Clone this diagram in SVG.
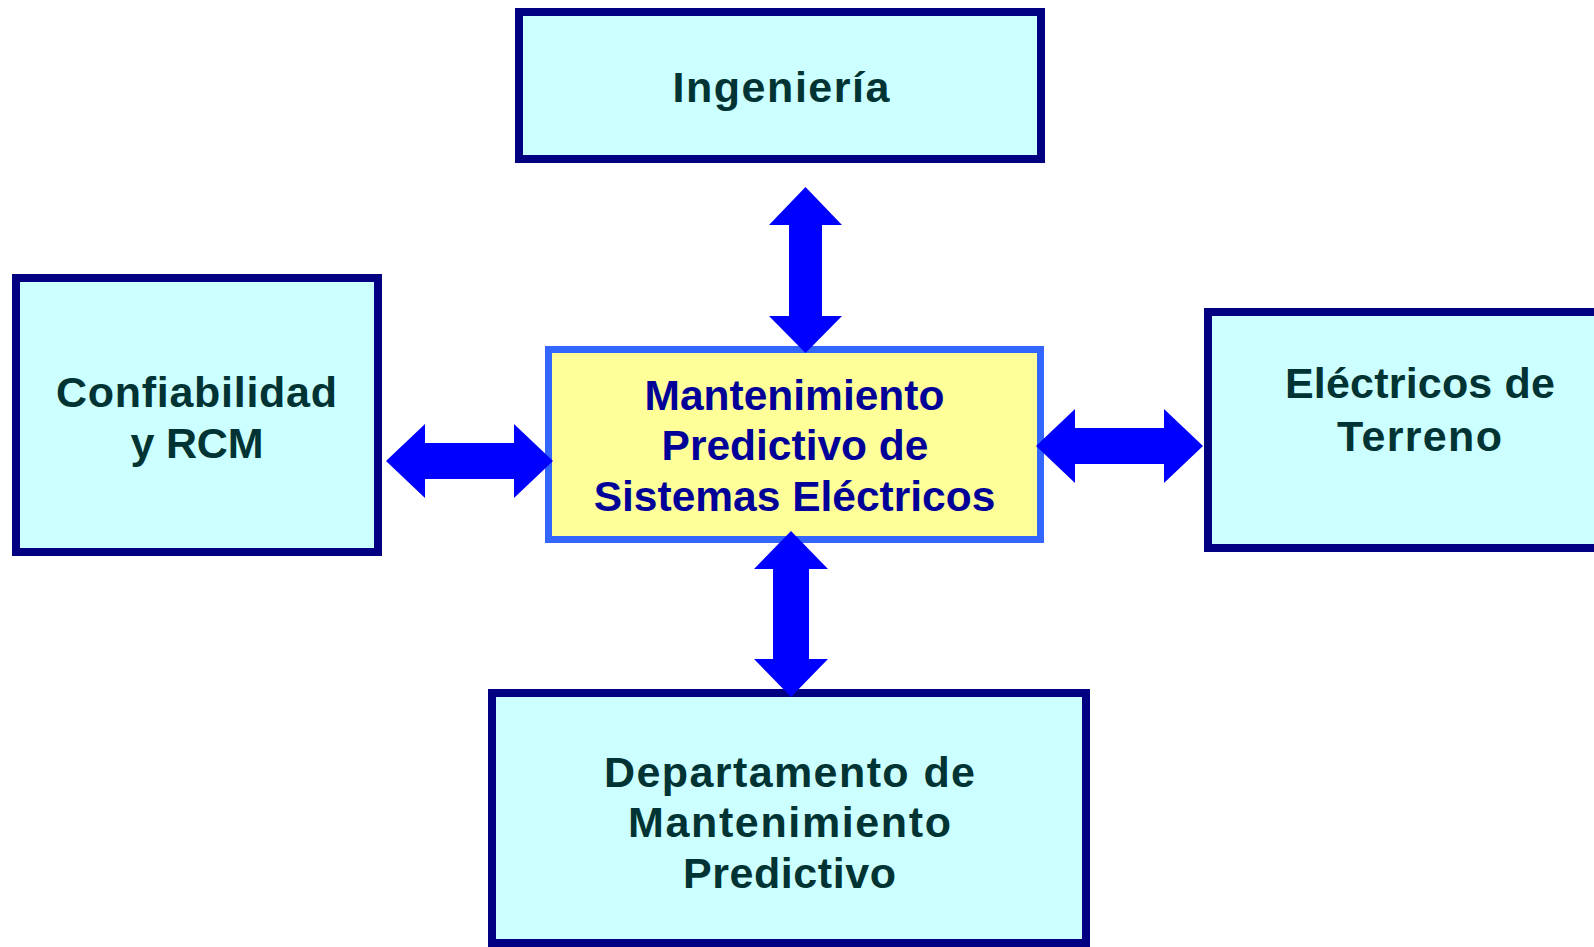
<svg xmlns="http://www.w3.org/2000/svg" width="1594" height="947" viewBox="0 0 1594 947">
<style>
.side{fill:#CCFFFF;stroke:#000080;stroke-width:8}
.core{fill:#FFFF99;stroke:#3366FF;stroke-width:7}
.st{font-family:"Liberation Sans",Arial,sans-serif;font-weight:bold;font-size:43px;fill:#003333;text-anchor:middle}
.ct{font-family:"Liberation Sans",Arial,sans-serif;font-weight:bold;font-size:42.5px;fill:#000099;text-anchor:middle}
.arr{fill:#0000FF}
</style>
<rect width="1594" height="947" fill="#FFFFFF"/>
<g id="ingenieria">
<rect class="side" x="519" y="12" width="522" height="147"/>
<text class="st" x="781" y="102" textLength="217" lengthAdjust="spacing">Ingeniería</text>
</g>
<g id="confiabilidad">
<rect class="side" x="16" y="278" width="362" height="274"/>
<text class="st" x="196.5" y="407" textLength="281" lengthAdjust="spacing">Confiabilidad</text>
<text class="st" x="197" y="458" textLength="133" lengthAdjust="spacing">y RCM</text>
</g>
<g id="electricos">
<rect class="side" x="1208" y="312" width="420" height="236"/>
<text class="st" x="1420" y="398" textLength="270" lengthAdjust="spacing">Eléctricos de</text>
<text class="st" x="1419.5" y="451" textLength="165" lengthAdjust="spacing">Terreno</text>
</g>
<g id="departamento">
<rect class="side" x="492" y="693" width="594" height="250"/>
<text class="st" x="789.5" y="787" textLength="371" lengthAdjust="spacing">Departamento de</text>
<text class="st" x="789.5" y="837" textLength="323" lengthAdjust="spacing">Mantenimiento</text>
<text class="st" x="789.5" y="888" textLength="213" lengthAdjust="spacing">Predictivo</text>
</g>
<g id="centro">
<rect class="core" x="548.5" y="349.5" width="492" height="190"/>
<text class="ct" x="794.5" y="410">Mantenimiento</text>
<text class="ct" x="795" y="460">Predictivo de</text>
<text class="ct" x="794.5" y="511">Sistemas Eléctricos</text>
</g>
<g id="connectors">
<path class="arr" d="M805.5,187 L842,225 L822,225 L822,316 L842,316 L805.5,353 L769,316 L789,316 L789,225 L769,225 Z"/>
<path class="arr" d="M386,461 L425,424 L425,443 L514,443 L514,424 L553,461 L514,498 L514,479 L425,479 L425,498 Z"/>
<path class="arr" d="M1036,446 L1075,409 L1075,428 L1164,428 L1164,409 L1203,446 L1164,483 L1164,464 L1075,464 L1075,483 Z"/>
<path class="arr" d="M791,531 L828,569 L809,569 L809,659 L828,659 L791,697 L754,659 L773,659 L773,569 L754,569 Z"/>
</g>
</svg>
